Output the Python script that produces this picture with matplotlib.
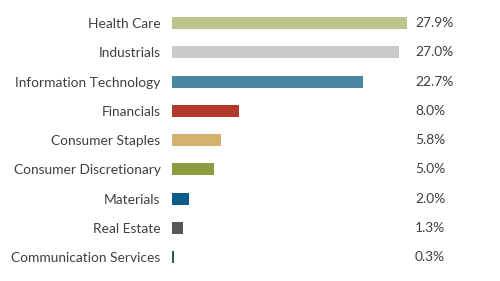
import matplotlib.pyplot as plt

# sector weights, top to bottom
sectors = ["Health Care", "Industrials", "Information Technology", "Financials",
           "Consumer Staples", "Consumer Discretionary", "Materials",
           "Real Estate", "Communication Services"]
weights = [27.9, 27.0, 22.7, 8.0, 5.8, 5.0, 2.0, 1.3, 0.3]
colors = ["#bfc38e", "#c8c9cb", "#4a87a2", "#b0392c", "#d3b06b",
          "#8e9a40", "#0e5a89", "#58585a", "#1e5b4a"]

plt.rcParams['font.family'] = ['Lato', 'DejaVu Sans']

fig = plt.figure(figsize=(5, 2.81), dpi=100)
ax = fig.add_axes([171.7 / 500, 9.4 / 281, 328.3 / 500, 263 / 281])

ypos = list(range(len(sectors)))
ax.barh(ypos, weights, height=0.41, color=colors)
ax.set_xlim(0, 39)
ax.set_ylim(len(sectors) - 0.5, -0.5)

ax.set_yticks(ypos)
ax.set_yticklabels(sectors, fontsize=9.9, color="#404040")
ax.tick_params(axis='y', length=0, pad=8)
ax.set_xticks([])
for s in ax.spines.values():
    s.set_visible(False)

for y, w in zip(ypos, weights):
    ax.text(0.741, y, f"{w:.1f}%", transform=ax.get_yaxis_transform(),
            ha='left', va='center', fontsize=9.9, color="#404040")

fig.savefig("out.png", dpi=100)
